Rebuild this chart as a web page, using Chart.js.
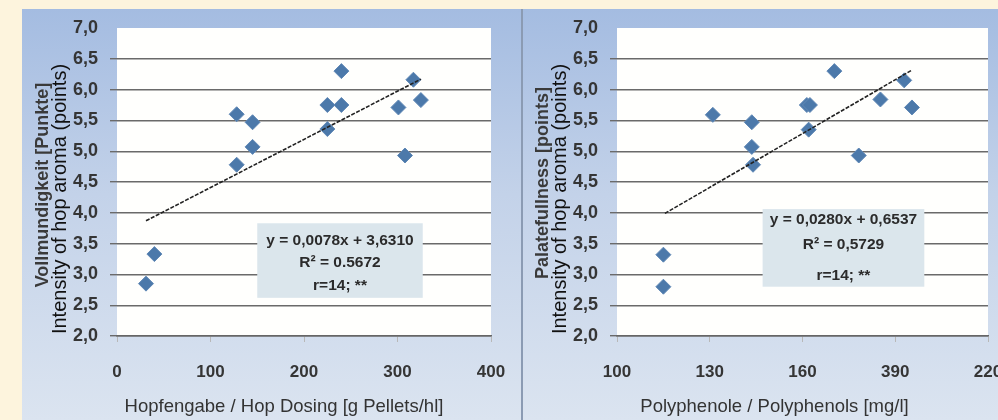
<!DOCTYPE html>
<html><head><meta charset="utf-8">
<script src="https://cdn.jsdelivr.net/npm/chart.js@4.4.1/dist/chart.umd.min.js"></script>
<style>
html,body{margin:0;padding:0;width:998px;height:420px;overflow:hidden;background:#fdf4dd;}
#panel{position:absolute;left:22px;top:9px;width:976px;height:411px;background:linear-gradient(to bottom,#a4bce1 0%,#c3d2e9 45%,#dbe4f0 100%);}
#divider{position:absolute;left:521px;top:9px;width:2px;height:411px;background:#8b9bb3;}
#c1{position:absolute;left:0;top:0;}
#c2{position:absolute;left:523px;top:0;}
</style></head>
<body>
<div id="panel"></div><div id="divider"></div>
<canvas id="c1" width="521" height="420"></canvas>
<canvas id="c2" width="475" height="420"></canvas>
<script>
// ---- data ----
const leftX  = [31, 40, 128, 128, 145, 145, 225, 225, 240, 240, 301, 308, 317, 325];
const leftY  = [2.85, 3.33, 5.6, 4.78, 5.47, 5.07, 5.75, 5.36, 6.3, 5.75, 5.71, 4.93, 6.16, 5.83];
const leftTrendX = [31, 325];
const leftTrendY = [3.87, 6.17];

const rightX = [115, 115, 131, 143.6, 143.6, 144, 161.4, 162.4, 162, 170.3, 178.2, 185.2, 192.9, 195.4];
const rightY = [2.8, 3.32, 5.59, 5.47, 5.07, 4.78, 5.75, 5.75, 5.35, 6.3, 4.93, 5.84, 6.15, 5.71];
const rightTrendX = [115.5, 195.5];
const rightTrendY = [3.99, 6.32];

const yTickLabels = ["2,0","2,5","3,0","3,5","4,0","4,5","5,0","5,5","6,0","6,5","7,0"];
const leftXTickLabels = ["0","100","200","300","400"];
const rightXTickLabels = ["100","130","160","390","220"];

const leftTitles = {x: "Hopfengabe / Hop Dosing [g Pellets/hl]", y1: "Vollmundigkeit [Punkte]", y2: "Intensity of hop aroma (points)"};
const rightTitles = {x: "Polyphenole / Polyphenols [mg/l]", y1: "Palatefullness [points]", y2: "Intensity of hop aroma (points)"};
const leftNote = ["y = 0,0078x + 3,6310", "R² = 0.5672", "r=14; **"];
const rightNote = ["y = 0,0280x + 0,6537", "R² = 0,5729", "r=14; **"];

const FONT = "'Liberation Sans', Arial, sans-serif";

function pairs(xs, ys){ return xs.map((x,i)=>({x:x, y:ys[i]})); }

function makeConfig(opt){
  return {
    type: 'scatter',
    data: {
      datasets: [
        {data: pairs(opt.px, opt.py), pointStyle:'rectRot', pointRadius:7.5, pointHoverRadius:7.5,
         backgroundColor:'#4c79aa', borderColor:'#6189b6', borderWidth:1, order:2},
        {data: pairs(opt.tx, opt.ty), type:'line', showLine:true, pointRadius:0,
         borderColor:'#222', borderWidth:1.6, borderDash:[4,1.5], fill:false, order:1}
      ]
    },
    options: {
      responsive:false, animation:false,
      layout:{padding:{left:0, top:28, right:opt.padRight, bottom:0}},
      plugins:{legend:{display:false}, tooltip:{enabled:false}},
      scales:{
        x:{type:'linear', min:opt.xmin, max:opt.xmax,
          ticks:{stepSize:opt.xstep, padding:20, color:'#353535', font:{family:FONT, size:17, weight:'bold'},
            callback:(v,i)=>opt.xlabels[i]},
          grid:{drawOnChartArea:false, drawTicks:true, tickLength:6, color:'#b8b8b8'},
          border:{display:true, color:'#666', width:1.5},
          afterFit:(s)=>{s.height=84; s.paddingRight=0; s.paddingLeft=0;}
        },
        y:{type:'linear', min:2, max:7,
          ticks:{stepSize:0.5, padding:12, color:'#353535', font:{family:FONT, size:18, weight:'bold'},
            callback:(v,i)=>yTickLabels[i]},
          grid:{color:(c)=> (c.tick && c.tick.value===7) ? 'rgba(0,0,0,0)' : '#6a6a6a', lineWidth:1.4, tickLength:7},
          border:{display:false},
          afterFit:(s)=>{s.width=opt.yWidth; s.paddingTop=0; s.paddingBottom=0;}
        }
      }
    },
    plugins:[{
      id:'deco',
      beforeDraw(chart){
        const a=chart.chartArea, ctx=chart.ctx;
        ctx.save(); ctx.fillStyle='#fffffd'; ctx.fillRect(a.left,a.top,a.right-a.left,a.bottom-a.top); ctx.restore();
      },
      beforeDatasetsDraw(chart){
        const ctx=chart.ctx, xs=chart.scales.x, ys=chart.scales.y;
        const b=opt.box;
        const x0=xs.getPixelForValue(b.x0), x1=xs.getPixelForValue(b.x1);
        const y0=ys.getPixelForValue(b.y0), y1=ys.getPixelForValue(b.y1);
        ctx.save();
        ctx.fillStyle='#dbe6ec'; ctx.fillRect(x0,y0,x1-x0,y1-y0);
        ctx.fillStyle='#2b2b2b'; ctx.font='bold 15.5px '+FONT; ctx.textAlign='center'; ctx.textBaseline='middle';
        const cx=(x0+x1)/2;
        opt.note.forEach((t,i)=>ctx.fillText(t, cx, y0+opt.noteOffsets[i]));
        ctx.restore();
      },
      afterDraw(chart){
        const a=chart.chartArea, ctx=chart.ctx;
        const cy=(a.top+a.bottom)/2;
        ctx.save();
        ctx.textAlign='center'; ctx.textBaseline='middle';
        // x title
        ctx.fillStyle='#333'; ctx.font='18.5px '+FONT;
        ctx.fillText(opt.titles.x, (a.left+a.right)/2+opt.xTitleShift, 407);
        // y titles
        ctx.translate(a.left-74, cy+opt.y1Shift); ctx.rotate(-Math.PI/2);
        ctx.fillStyle='#3a3a3a'; ctx.font='bold '+opt.y1Size+'px '+FONT;
        ctx.fillText(opt.titles.y1, 0, 0);
        ctx.restore();
        ctx.save();
        ctx.textAlign='center'; ctx.textBaseline='middle';
        ctx.translate(a.left-57, cy+17); ctx.rotate(-Math.PI/2);
        ctx.fillStyle='#111'; ctx.font='20px '+FONT;
        ctx.fillText(opt.titles.y2, 0, 0);
        ctx.restore();
      }
    }]
  };
}

new Chart(document.getElementById('c1'), makeConfig({
  px:leftX, py:leftY, tx:leftTrendX, ty:leftTrendY,
  xmin:0, xmax:400, xstep:100, xlabels:leftXTickLabels, yWidth:117, padRight:30,
  box:{x0:150, x1:327, y0:3.83, y1:2.62}, note:leftNote, noteOffsets:[17,39,62],
  titles:leftTitles, xTitleShift:-20, y1Shift:3, y1Size:18
}));
new Chart(document.getElementById('c2'), makeConfig({
  px:rightX, py:rightY, tx:rightTrendX, ty:rightTrendY,
  xmin:100, xmax:220, xstep:30, xlabels:rightXTickLabels, yWidth:94, padRight:10,
  box:{x0:147.1, x1:199.4, y0:4.06, y1:2.80}, note:rightNote, noteOffsets:[11,36,67],
  titles:rightTitles, xTitleShift:-28, y1Shift:1, y1Size:18
}));
</script>
</body></html>
